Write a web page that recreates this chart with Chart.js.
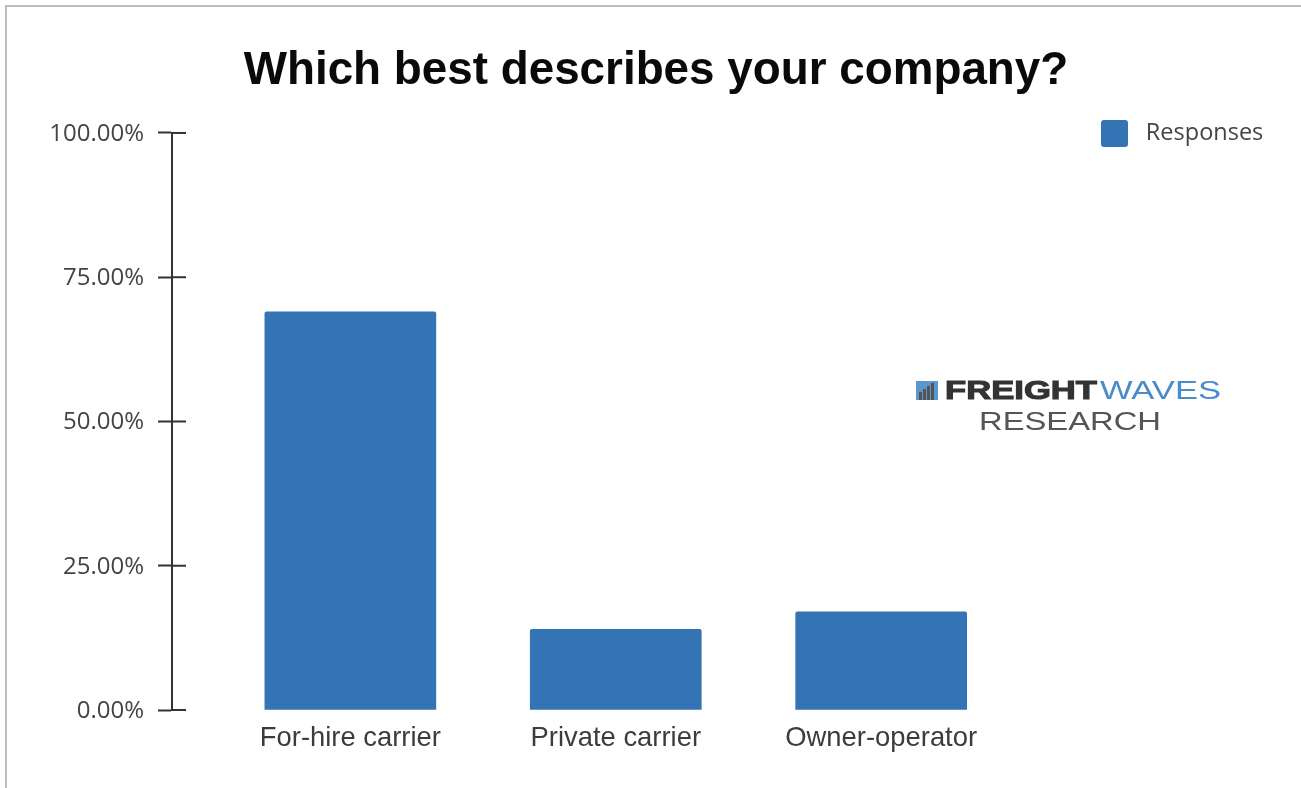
<!DOCTYPE html>
<html>
<head>
<meta charset="utf-8">
<title>Which best describes your company?</title>
<script src="https://cdn.jsdelivr.net/npm/chart.js@4"></script>
<style>
  html, body { margin: 0; padding: 0; background: #fff; overflow: hidden; }
  #wrap { position: relative; width: 1301px; height: 788px; }
  #grafico { position: absolute; left: 0; top: 0; }
  #marco {
    position: absolute; left: 5px; top: 5px; right: -4px; bottom: -4px;
    border-left: 2px solid #bdbdbd; border-top: 2px solid #bdbdbd;
  }
  #logo { position: absolute; left: 0; top: 0; pointer-events: none; }
  #logo text { font-family: "Liberation Sans", Arial, sans-serif; }
</style>
</head>
<body>
<div id="wrap">
  <canvas id="grafico" width="1301" height="788"></canvas>
  <div id="marco"></div>
  <!-- Marca de agua -->
  <svg id="logo" width="1301" height="788">
    <rect x="916" y="381" width="22" height="19" fill="#5a97cf"/>
    <rect x="919" y="392" width="3" height="8" fill="#555"/>
    <rect x="923" y="389" width="3" height="11" fill="#555"/>
    <rect x="927" y="386" width="3" height="14" fill="#555"/>
    <rect x="931" y="383" width="3" height="17" fill="#555"/>
    <text x="945" y="399" font-size="25" font-weight="bold" fill="#333" stroke="#333" stroke-width="1"
          textLength="152" lengthAdjust="spacingAndGlyphs">FREIGHT</text>
    <text x="1100" y="399" font-size="25" fill="#4a8cc9"
          textLength="121" lengthAdjust="spacingAndGlyphs">WAVES</text>
    <text x="979" y="430" font-size="25" fill="#555"
          textLength="182" lengthAdjust="spacingAndGlyphs">RESEARCH</text>
  </svg>
</div>

<script>
// Datos del gráfico
const categorias = ['For-hire carrier', 'Private carrier', 'Owner-operator'];
const respuestas = [69, 14, 17];
const nombreSerie = 'Responses';
const titulo = 'Which best describes your company?';

// Eje x lineal para poder separar las barras del eje y
const limitesX = [-0.672, 3.465];
const limitesY = [0, 100];
const pasoY = 25;

const colorBarra = '#3474b4';
const colorEje = '#333';

// Medias marcas de graduación hacia dentro del área del gráfico
const marcasInternas = {
  id: 'marcasInternas',
  afterDraw(chart) {
    const y = chart.scales.y;
    const ctx = chart.ctx;
    ctx.save();
    ctx.strokeStyle = colorEje;
    ctx.lineWidth = 2;
    y.ticks.forEach(t => {
      const py = y.getPixelForValue(t.value);
      ctx.beginPath();
      ctx.moveTo(y.right, py);
      ctx.lineTo(y.right + 14, py);
      ctx.stroke();
    });
    ctx.restore();
  }
};

// Coloca la leyenda arriba a la derecha
const posicionLeyenda = {
  id: 'posicionLeyenda',
  afterLayout(chart) {
    chart.legend.left = 1091;
    chart.legend.top = 110;
  }
};

new Chart(document.getElementById('grafico').getContext('2d'), {
  type: 'bar',
  data: {
    datasets: [{
      label: nombreSerie,
      data: categorias.map((c, i) => ({ x: i, y: respuestas[i] })),
      backgroundColor: colorBarra,
      borderColor: colorBarra,
      borderWidth: 0,
      borderRadius: { topLeft: 2, topRight: 2 },
      borderSkipped: 'bottom',
      barThickness: 171
    }]
  },
  plugins: [marcasInternas, posicionLeyenda],
  options: {
    responsive: false,
    animation: false,
    layout: { padding: { left: 42, right: 31, top: 0, bottom: 0 } },
    plugins: {
      tooltip: { enabled: false },
      title: {
        display: true,
        text: titulo,
        color: '#0a0a0a',
        font: { family: '"Liberation Sans", Arial, sans-serif', size: 45.8, weight: 'bold', lineHeight: 1.2 },
        padding: { top: 44, bottom: 34 }
      },
      legend: {
        position: 'chartArea',
        align: 'start',
        labels: {
          boxWidth: 27,
          boxHeight: 27,
          padding: 10,
          useBorderRadius: true,
          borderRadius: 3,
          color: '#444',
          font: { family: '"Open Sans", sans-serif', size: 23.5 },
          generateLabels(chart) {
            return Chart.defaults.plugins.legend.labels.generateLabels(chart)
              .map(item => ({ ...item, text: ' ' + item.text }));
          }
        }
      }
    },
    scales: {
      x: {
        type: 'linear',
        offset: false,
        min: limitesX[0],
        max: limitesX[1],
        grid: { display: false, drawTicks: false },
        border: { display: false },
        afterFit(scale) { scale.height = 78; },
        afterBuildTicks(scale) {
          scale.ticks = categorias.map((c, i) => ({ value: i }));
        },
        ticks: {
          autoSkip: false,
          maxRotation: 0,
          padding: 12,
          color: '#3c3c3c',
          font: { family: '"Liberation Sans", Arial, sans-serif', size: 27.4 },
          callback: value => categorias[value]
        }
      },
      y: {
        min: limitesY[0],
        max: limitesY[1],
        afterFit(scale) { scale.width = 130; },
        grid: { drawOnChartArea: false, tickLength: 14, tickWidth: 2, tickColor: colorEje },
        border: { display: true, color: colorEje, width: 2 },
        ticks: {
          stepSize: pasoY,
          padding: 14,
          labelOffset: 1,
          color: '#444',
          font: { family: '"Open Sans", sans-serif', size: 24 },
          callback: value => value.toFixed(2) + '%'
        }
      }
    }
  }
});
</script>
</body>
</html>
